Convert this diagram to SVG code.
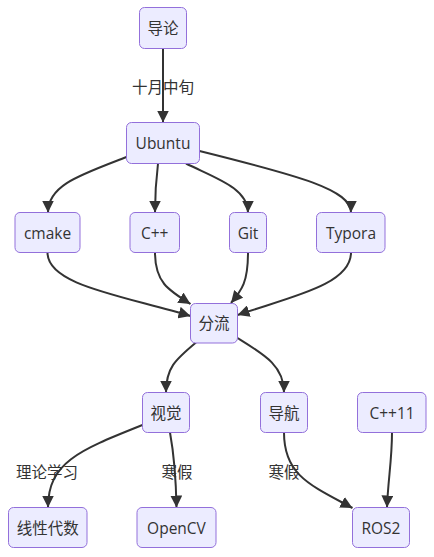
<svg xmlns="http://www.w3.org/2000/svg" width="434" height="557" viewBox="0 0 434 557">
<style>
.node rect{fill:#ECECFF;stroke:#9370DB;stroke-width:1}
text{font-family:"Open Sans","Noto Sans CJK SC",sans-serif;font-size:15.5px;fill:#333;text-anchor:middle;dominant-baseline:central}
.edges path{fill:none;stroke:#333;stroke-width:2}
</style>
<defs>
<marker id="arr" viewBox="0 0 10 10" refX="10" refY="5" markerUnits="userSpaceOnUse" markerWidth="12" markerHeight="12" orient="auto">
<path d="M0,0 L10,5 L0,10 z" fill="#333"/>
</marker>
</defs>
<rect width="434" height="557" fill="#fff"/>
<g class="edges">
<path d="M163,48.5 L163,122.5" marker-end="url(#arr)"/>
<path d="M126.5,157 C80,175 48,185 48,212.5" marker-end="url(#arr)"/>
<path d="M158,163.5 C156,180 155,190 155,212.5" marker-end="url(#arr)"/>
<path d="M186,163.5 C215,178 248,188 248,212.5" marker-end="url(#arr)"/>
<path d="M199.5,151 C300,176 351,190 351,212.5" marker-end="url(#arr)"/>
<path d="M47.5,252.5 C47.5,285 120,295 190.5,316" marker-end="url(#arr)"/>
<path d="M155,252.5 C155,282 168,290 190.5,304" marker-end="url(#arr)"/>
<path d="M248,252.5 C248,282 242,290 231,303" marker-end="url(#arr)"/>
<path d="M351,252.5 C351,285 290,297 237.5,315" marker-end="url(#arr)"/>
<path d="M196,342.5 C175,360 166,368 166,392.5" marker-end="url(#arr)"/>
<path d="M237.5,338 C265,355 284,366 284,392.5" marker-end="url(#arr)"/>
<path d="M142.5,425 C80,450 48,462 48,507.5" marker-end="url(#arr)"/>
<path d="M170,432.5 C175,460 176,480 176.5,507.5" marker-end="url(#arr)"/>
<path d="M284,432.5 C284,475 310,485 352.5,508" marker-end="url(#arr)"/>
<path d="M392,432.5 C392,460 388,480 387,507.5" marker-end="url(#arr)"/>
</g>
<g id="edge-labels">
<text x="163" y="87">十月中旬</text>
<text x="47" y="472">理论学习</text>
<text x="177" y="472">寒假</text>
<text x="284" y="472">寒假</text>
</g>
<g id="n-daolun" class="node"><rect x="139.5" y="7.5" width="47" height="41" rx="5"/><text x="163" y="28">导论</text></g>
<g id="n-ubuntu" class="node"><rect x="126.5" y="122.5" width="73" height="41" rx="5"/><text x="163" y="143">Ubuntu</text></g>
<g id="n-cmake" class="node"><rect x="15" y="212.5" width="65" height="40" rx="5"/><text x="47.5" y="232.5">cmake</text></g>
<g id="n-cpp" class="node"><rect x="130" y="212.5" width="49.5" height="40" rx="5"/><text x="154.7" y="232.5">C++</text></g>
<g id="n-git" class="node"><rect x="229.5" y="212.5" width="37" height="40" rx="5"/><text x="248" y="232.5">Git</text></g>
<g id="n-typora" class="node"><rect x="316.5" y="212.5" width="68.5" height="40" rx="5"/><text x="351" y="232.5">Typora</text></g>
<g id="n-fenliu" class="node"><rect x="190.5" y="303.5" width="47" height="39.5" rx="5"/><text x="214" y="323">分流</text></g>
<g id="n-shijue" class="node"><rect x="142.5" y="392.5" width="47" height="40" rx="5"/><text x="166" y="412.5">视觉</text></g>
<g id="n-daohang" class="node"><rect x="260.5" y="392.5" width="47" height="40" rx="5"/><text x="284" y="412.5">导航</text></g>
<g id="n-cpp11" class="node"><rect x="357.5" y="392.5" width="68.5" height="40" rx="5"/><text x="392" y="412.5">C++11</text></g>
<g id="n-xianxing" class="node"><rect x="8.5" y="507.5" width="78.5" height="40" rx="5"/><text x="47.7" y="527.5">线性代数</text></g>
<g id="n-opencv" class="node"><rect x="137" y="507.5" width="79" height="40" rx="5"/><text x="176.5" y="527.5">OpenCV</text></g>
<g id="n-ros2" class="node"><rect x="352.5" y="507.5" width="57" height="40" rx="5"/><text x="381" y="527.5">ROS2</text></g>
</svg>
